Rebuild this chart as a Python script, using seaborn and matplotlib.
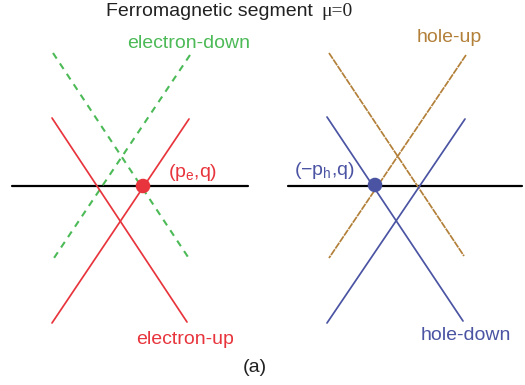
import matplotlib
matplotlib.use("Agg")
import matplotlib.pyplot as plt
import seaborn as sns
import pandas as pd

# momentum (x) and energy (y) end points of each dispersion branch,
# energy measured from the Fermi level (black line)
electron_down_p = [[53, 188], [190, 54]]
electron_down_E = [[133, -71], [131, -72]]
electron_up_p = [[52, 187], [189, 52]]
electron_up_E = [[68, -136], [67, -137]]
hole_up_p = [[329, 464], [466, 329]]
hole_up_E = [[133, -70], [131, -72]]
hole_down_p = [[327, 463], [465, 327]]
hole_down_E = [[69, -135], [67, -137]]
fermi_p = [[12, 248], [288, 522]]
fermi_E = [[0, 0], [0, 0]]
crossing_p = [143, 375]
crossing_E = [0, 1]

red = "#e8353d"
green = "#4cba57"
brown = "#b3803a"
blue = "#4b54a3"

sns.set_theme(style="white")
plt.rcParams["font.family"] = ["Liberation Sans", "DejaVu Sans"]
plt.rcParams["mathtext.fontset"] = "custom"
plt.rcParams["mathtext.rm"] = "Liberation Sans"

fig = plt.figure(figsize=(5.25, 3.85), dpi=100)
ax = fig.add_axes([0, 0, 1, 1])


def branch(ps, Es, name):
    rows = []
    for i, (p, E) in enumerate(zip(ps, Es)):
        for pp, ee in zip(p, E):
            rows.append({"branch": name, "seg": i, "p": pp, "E": ee})
    return rows


df = pd.DataFrame(
    branch(fermi_p, fermi_E, "fermi")
    + branch(electron_down_p, electron_down_E, "electron-down")
    + branch(electron_up_p, electron_up_E, "electron-up")
    + branch(hole_up_p, hole_up_E, "hole-up")
    + branch(hole_down_p, hole_down_E, "hole-down")
)

styles = {
    "fermi": dict(color="black", lw=1.6),
    "electron-down": dict(color=green, lw=1.5, dashes=(3.2, 2.8)),
    "electron-up": dict(color=red, lw=1.25),
    "hole-up": dict(color=brown, lw=1.25, dashes=(4, 0.5)),
    "hole-down": dict(color=blue, lw=1.25),
}

for (name, seg), sub in df.groupby(["branch", "seg"], sort=False):
    st = dict(styles[name])
    dashes = st.pop("dashes", None)
    sns.lineplot(data=sub, x="p", y="E", sort=False, estimator=None,
                 ax=ax, legend=False, **st)
    if dashes is not None:
        ax.lines[-1].set_dashes(dashes)

sns.scatterplot(x=crossing_p, y=crossing_E, hue=["e", "h"],
                palette=[red, blue], s=110, edgecolor="none",
                legend=False, ax=ax, zorder=5)

ax.set_xlim(0, 525)
ax.set_ylim(-199, 186)
ax.axis("off")

fs = 14
ax.text(313, 175, "Ferromagnetic segment", ha="right", va="center",
        fontsize=fs, color="#222222")
ax.text(321, 175, "\u03bc=0", ha="left", va="center", fontsize=fs,
        color="#222222", family="Liberation Serif")
ax.text(189, 143, "electron-down", ha="center", va="center",
        fontsize=fs, color=green)
ax.text(449, 149, "hole-up", ha="center", va="center",
        fontsize=fs, color=brown)
ax.text(168, 14, r"(p$_\mathrm{e}$,q)", ha="left", va="center",
        fontsize=fs, color=red)
ax.text(355, 16, "(\u2212p$_\\mathrm{h}$,q)",
        ha="right", va="center", fontsize=fs, color=blue)
ax.text(185, -153, "electron-up", ha="center", va="center",
        fontsize=fs, color=red)
ax.text(466, -149, "hole-down", ha="center", va="center",
        fontsize=fs, color=blue)
ax.text(255, -181, "(a)", ha="center", va="center", fontsize=fs,
        color="#222222")

fig.savefig("out.png", dpi=100)
